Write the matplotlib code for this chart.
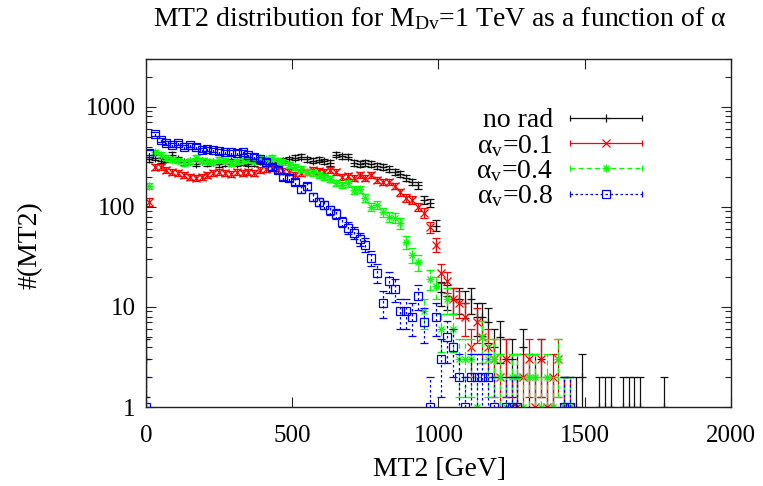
import numpy as np
import matplotlib
matplotlib.use("Agg")
import matplotlib.pyplot as plt
from matplotlib.lines import Line2D
from matplotlib.legend_handler import HandlerBase
from matplotlib.ticker import LogLocator, NullFormatter, FixedLocator

plt.rcParams["font.family"] = ["Liberation Serif", "DejaVu Serif"]
plt.rcParams["mathtext.fontset"] = "custom"
plt.rcParams["mathtext.rm"] = "Liberation Serif"
plt.rcParams["mathtext.it"] = "Liberation Serif"

# MT2 bin centres [GeV]: an MT2 = 0 entry, then 20 GeV bins
mt2 = [0] + [10 + 20 * k for k in range(89)]

# event counts per bin (0 = empty bin, not drawn)
no_rad = [3,
          300, 309, 290, 300, 331, 300, 280, 285, 270, 290,
          275, 280, 265, 275, 285, 270, 280, 270, 275, 285,
          270, 275, 280, 290, 300, 309, 316, 300, 290, 295,
          285, 275, 331, 320, 316, 275, 269, 275, 269, 257,
          251, 240, 222, 212, 195, 178, 165, 117, 110, 65,
          14, 13, 12, 12, 11, 12, 8, 8, 7, 4,
          5, 3, 3, 2, 4, 2, 2, 3, 1, 1,
          0, 1, 0, 1, 2, 0, 0, 1, 1, 1,
          0, 1, 1, 1, 1, 0, 0, 0, 1]

alpha_01 = [0,
            112, 250, 251, 234, 224, 218, 209, 200, 195, 200,
            209, 218, 224, 218, 215, 224, 218, 224, 220, 234,
            240, 245, 235, 230, 225, 209, 218, 224, 234, 230,
            224, 234, 225, 200, 205, 195, 209, 195, 209, 185,
            178, 178, 162, 140, 123, 117, 100, 87, 63, 42,
            22, 18, 12, 11, 8, 4, 7, 5, 4, 3,
            2, 3, 1, 1, 2, 3, 1, 3, 1, 2,
            3, 1, 1, 0, 0, 0, 0, 0, 0, 0,
            0, 0, 0, 0, 0, 0, 0, 0, 0]

alpha_04 = [0,
            162, 355, 331, 310, 295, 290, 275, 285, 309, 290,
            285, 280, 295, 290, 275, 285, 290, 300, 290, 309,
            300, 309, 290, 280, 263, 251, 240, 224, 218, 209,
            200, 190, 174, 166, 172, 148, 150, 123, 100, 105,
            89, 79, 78, 69, 45, 33, 28, 9, 19, 16,
            6, 12, 6, 3, 3, 3, 1, 5, 3, 3,
            2, 1, 2, 2, 1, 2, 2, 1, 2, 1,
            3, 1, 1, 0, 0, 0, 0, 0, 0, 0,
            0, 0, 0, 0, 0, 0, 0, 0, 0]

alpha_08 = [1,
            347, 537, 468, 437, 417, 437, 398, 417, 400, 372,
            380, 372, 360, 355, 350, 347, 355, 330, 316, 300,
            282, 251, 234, 200, 195, 178, 150, 160, 126, 112,
            105, 93, 85, 71, 62, 55, 48, 42, 31, 22,
            11, 18, 15, 9, 9, 8, 13, 7, 1, 8,
            3, 5, 4, 2, 1, 2, 2, 2, 2, 1,
            0, 1, 1, 1, 0, 0, 0, 0, 0, 0,
            0, 1, 1, 0, 0, 0, 0, 0, 0, 0,
            0, 0, 0, 0, 0, 0, 0, 0, 0]

labels = ["no rad", r"α$_{\mathrm{v}}$=0.1", r"α$_{\mathrm{v}}$=0.4", r"α$_{\mathrm{v}}$=0.8"]
series = [no_rad, alpha_01, alpha_04, alpha_08]
colors = ["#111111", "#ff0000", "#00ff00", "#0000ff"]
markers = ["+", "x", "*", "s"]
lstyles = ["-", "-", (0, (4, 2.5)), (0, (2, 2))]

MS = 5.4
LW = 0.9


def draw_marker(target, x, y, m, c):
    if m == "*":
        target.plot(x, y, linestyle="none", marker="+", ms=MS + 0.6, mec=c, mew=LW)
        target.plot(x, y, linestyle="none", marker="x", ms=MS - 0.6, mec=c, mew=LW)
    else:
        target.plot(x, y, linestyle="none", marker=m, ms=MS, mfc="none", mec=c, mew=LW)


fig = plt.figure(figsize=(7.63, 4.86), dpi=100)
ax = fig.add_axes([146 / 763, 79 / 486, 585 / 763, 348 / 486])

x_all = np.array(mt2, dtype=float)
for vals, c, m, ls in zip(series, colors, markers, lstyles):
    v = np.array(vals, dtype=float)
    keep = v > 0
    x, y = x_all[keep], v[keep]
    err = np.sqrt(y)
    eb = ax.errorbar(x, y, yerr=err, fmt="none", ecolor=c, elinewidth=LW,
                     capsize=2.6, capthick=LW)
    eb[2][0].set_linestyle(ls)
    draw_marker(ax, x, y, m, c)

ax.set_yscale("log", nonpositive="clip")
ax.set_xlim(0, 2000)
ax.set_ylim(1, 3000)
ax.xaxis.set_major_locator(FixedLocator([0, 500, 1000, 1500, 2000]))
ax.yaxis.set_major_locator(FixedLocator([1, 10, 100, 1000]))
ax.yaxis.set_minor_locator(LogLocator(base=10, subs=np.arange(2, 10)))
ax.yaxis.set_minor_formatter(NullFormatter())
ax.set_yticklabels(["1", "10", "100", "1000"])
ax.tick_params(axis="both", which="both", direction="in", top=True, right=True,
               labelsize=18, width=0.8, color="#222222")
ax.tick_params(axis="both", which="major", length=7)
ax.tick_params(axis="both", which="minor", length=4)
ax.tick_params(axis="x", pad=13)
ax.tick_params(axis="y", pad=7.5)
for s in ax.spines.values():
    s.set_linewidth(1.0)
    s.set_color("#222222")

fig.text(440 / 763, 1 - 19 / 486, r"MT2 distribution for M$_{\mathrm{Dv}}$=1 TeV as a function of α",
         ha="center", va="center", fontsize=20)
fig.text(440 / 763, 1 - 469 / 486, "MT2 [GeV]", ha="center", va="center", fontsize=20)
fig.text(30 / 763, 1 - 245 / 486, "#(MT2)", ha="center", va="center", fontsize=20, rotation=90)


class KeyHandler(HandlerBase):
    def create_artists(self, legend, orig, xdescent, ydescent, width, height, fontsize, trans):
        y = height / 2 - ydescent
        x0, x1 = -xdescent, width - xdescent
        c = orig.get_color()
        line = Line2D([x0, x1], [y, y], color=c, lw=LW, linestyle=orig._key_ls)
        caps = Line2D([x0, x1], [y, y], color=c, linestyle="none", marker="|", ms=5, mew=LW)
        arts = [line, caps]
        m = orig.get_marker()
        xm = [(x0 + x1) / 2]
        if m == "*":
            arts.append(Line2D(xm, [y], linestyle="none", marker="+", ms=MS + 0.6, mec=c, mew=LW))
            arts.append(Line2D(xm, [y], linestyle="none", marker="x", ms=MS - 0.6, mec=c, mew=LW))
        else:
            arts.append(Line2D(xm, [y], linestyle="none", marker=m, ms=MS, mfc="none", mec=c, mew=LW))
        for a in arts:
            a.set_transform(trans)
        return arts


handles = []
for c, m, ls in zip(colors, markers, lstyles):
    h = Line2D([], [], color=c, marker=m)
    h._key_ls = ls
    handles.append(h)

ax.legend(handles, labels, handler_map={Line2D: KeyHandler()}, loc="upper right",
          bbox_to_anchor=((642 - 146) / 585, 1 - (108 - 59) / 348), borderpad=0, borderaxespad=0,
          frameon=False, markerfirst=False, fontsize=20, handlelength=2.6, handletextpad=0.6,
          labelspacing=-0.02)

fig.savefig("out.png", dpi=100)
